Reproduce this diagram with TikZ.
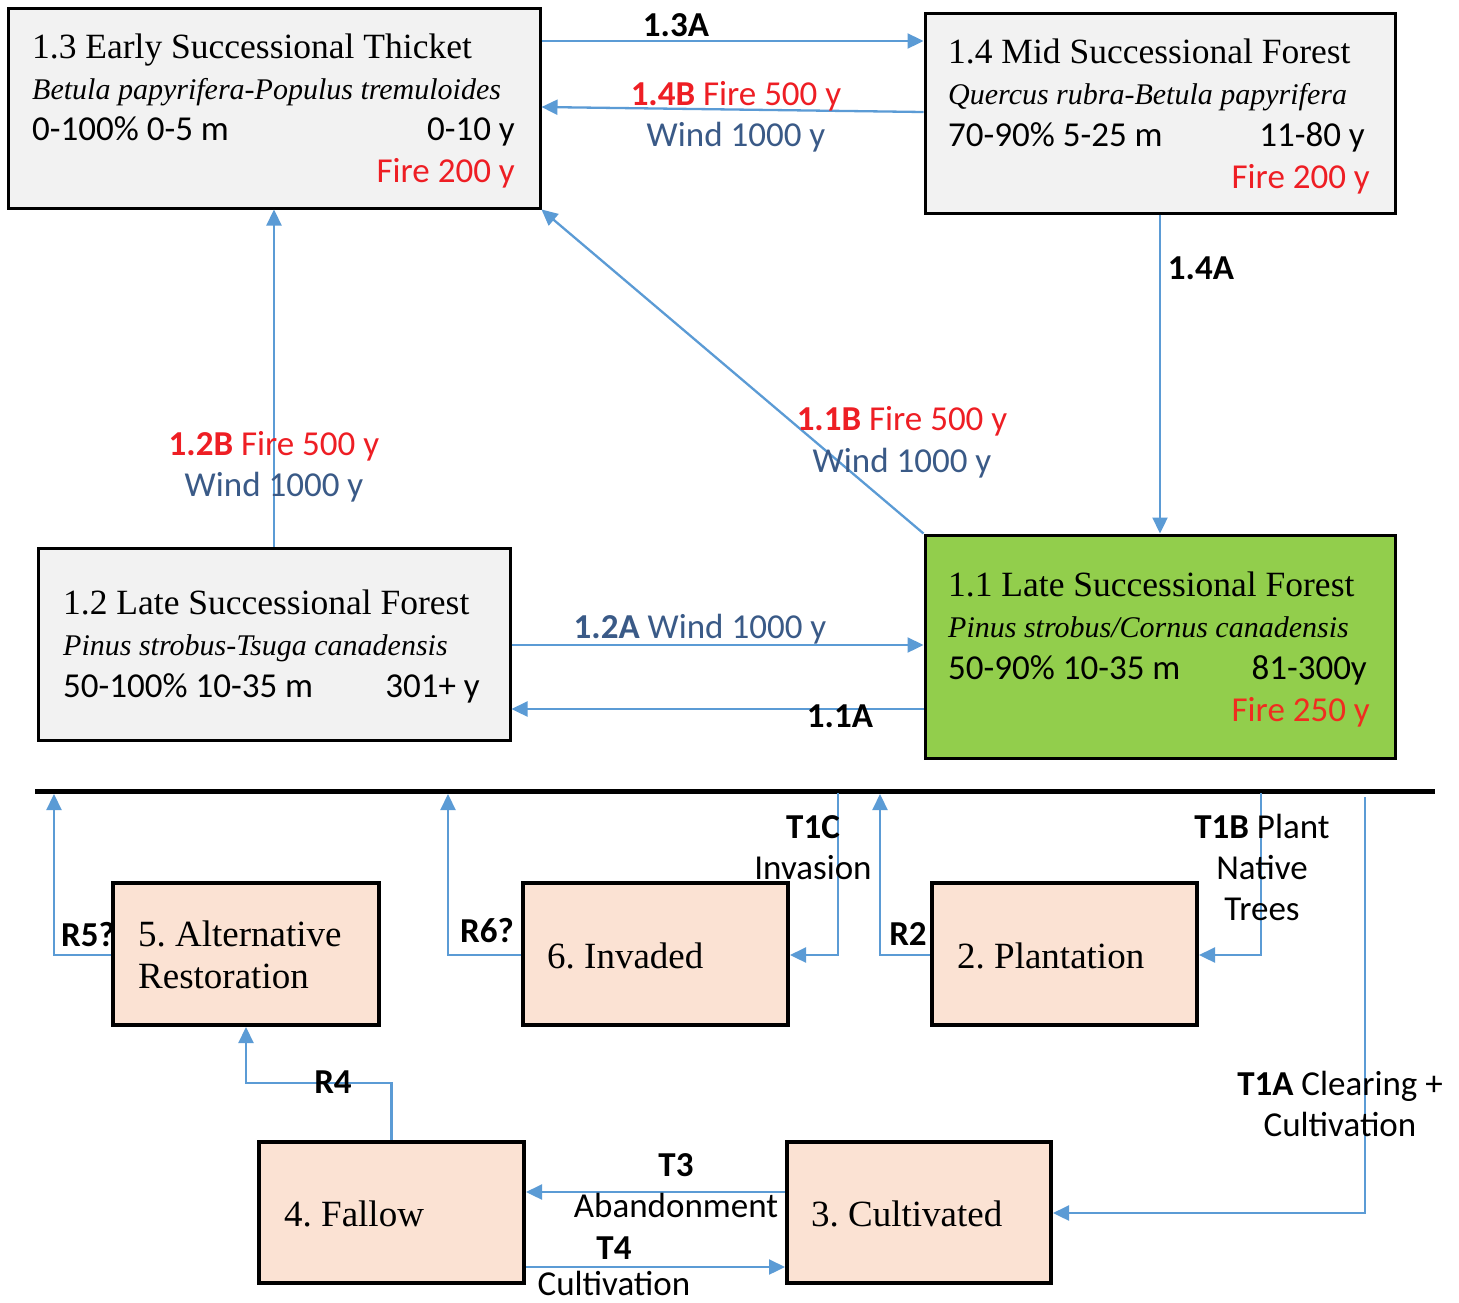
\documentclass[tikz,border=0pt]{standalone}
\usepackage{fontspec}
\setmainfont{Liberation Serif}
\newfontfamily\calfont{Carlito}
\usetikzlibrary{arrows.meta,calc}
\frenchspacing
\definecolor{arrowblue}{RGB}{91,155,213}
\definecolor{boxgray}{RGB}{242,242,242}
\definecolor{boxgreen}{RGB}{146,206,76}
\definecolor{peach}{RGB}{251,226,211}
\definecolor{firered}{RGB}{238,30,36}
\definecolor{windblue}{RGB}{58,90,135}
\tikzset{
  statebox/.style={draw=black, line width=3pt, fill=boxgray, rectangle, inner sep=0pt},
  altbox/.style={draw=black, line width=4pt, fill=peach, rectangle, inner sep=0pt},
  conn/.style={draw=arrowblue, line width=2.3pt, -{Triangle[length=16pt,width=15pt]}},
  ttl/.style={font=\fontsize{35.5}{40}\selectfont, anchor=base west, inner sep=0pt},
  altttl/.style={font=\fontsize{37}{42}\selectfont, anchor=base west, inner sep=0pt},
  spc/.style={font=\fontsize{30}{36}\selectfont\itshape, anchor=base west, inner sep=0pt},
  numl/.style={font=\calfont\fontsize{35}{40}\selectfont, anchor=base west, inner sep=0pt},
  numr/.style={font=\calfont\fontsize{35}{40}\selectfont, anchor=base east, inner sep=0pt},
  lab/.style={font=\calfont\fontsize{35}{40}\selectfont, anchor=base, inner sep=0pt},
}
\begin{document}
\begin{tikzpicture}[x=1pt,y=-1pt]
\useasboundingbox (0,0) rectangle (1459,1302);
\fill[white] (0,0) rectangle (1459,1302);

% upper state boxes
\node[statebox, minimum width=532pt, minimum height=200pt] (b13) at (274,108) {};
\node[statebox, minimum width=470pt, minimum height=200pt] (b14) at (1160,113) {};
\node[statebox, minimum width=472pt, minimum height=192pt] (b12) at (274,644) {};
\node[statebox, fill=boxgreen, minimum width=470pt, minimum height=223pt] (b11) at (1160,646.5) {};

% box 1.3 text
\node[ttl] (t13a) at (32,58) {1.3 Early Successional Thicket};
\node[spc] (t13b) at (32,99) {Betula papyrifera-Populus tremuloides};
\node[numl] (t13c) at (32,140) {0-100\% 0-5 m};
\node[numr] (t13d) at (515,140) {0-10 y};
\node[numr, text=firered] (t13e) at (515,182) {Fire 200 y};

% box 1.4 text
\node[ttl] (t14a) at (948,63) {1.4 Mid Successional Forest};
\node[spc] (t14b) at (948,104) {Quercus rubra-Betula papyrifera};
\node[numl] (t14c) at (948,146) {70-90\% 5-25 m};
\node[numr] (t14d) at (1365,146) {11-80 y};
\node[numr, text=firered] (t14e) at (1370,188) {Fire 200 y};

% box 1.2 text
\node[ttl] (t12a) at (63,614) {1.2 Late Successional Forest};
\node[spc] (t12b) at (63,655) {Pinus strobus-Tsuga canadensis};
\node[numl] (t12c) at (63,697) {50-100\% 10-35 m};
\node[numr] (t12d) at (480,697) {301+ y};

% box 1.1 text
\node[ttl] (t11a) at (948,596) {1.1 Late Successional Forest};
\node[spc] (t11b) at (948,637) {Pinus strobus/Cornus canadensis};
\node[numl] (t11c) at (948,679) {50-90\% 10-35 m};
\node[numr] (t11d) at (1367,679) {81-300y};
\node[numr, text=firered!85!orange] (t11e) at (1370,721) {Fire 250 y};

% upper connectors
\draw[conn] (b13.east |- 0,41) -- (b14.west |- 0,41);
\draw[conn] (b14.west |- 0,112) -- (b13.east |- 0,107);
\draw[conn] (b12.north) -- (b13.south);
\draw[conn] (b11.north west) -- (b13.south east);
\draw[conn] (b14.south) -- (b11.north);
\draw[conn] (b12.east |- 0,645) -- (b11.west |- 0,645);
\draw[conn] (b11.west |- 0,709) -- (b12.east |- 0,709);

% upper labels
\node[lab] (l13a) at (676,36) {\bfseries 1.3A};
\node[lab, text=firered] (l14b) at (736,105) {\bfseries 1.4B\mdseries{} Fire 500 y};
\node[lab, text=windblue] (l14bw) at (736,146) {Wind 1000 y};
\node[lab, text=firered] (l12b) at (274,455) {\bfseries 1.2B\mdseries{} Fire 500 y};
\node[lab, text=windblue] (l12bw) at (274,496) {Wind 1000 y};
\node[lab, text=firered] (l11b) at (902,430) {\bfseries 1.1B\mdseries{} Fire 500 y};
\node[lab, text=windblue] (l11bw) at (902,472) {Wind 1000 y};
\node[lab] (l14a) at (1201,279) {\bfseries 1.4A};
\node[lab, text=windblue] (l12a) at (700,638) {\bfseries 1.2A\mdseries{} Wind 1000 y};
\node[lab] (l11a) at (840,727) {\bfseries 1.1A};

% threshold bar
\coordinate (barL) at (35,791);
\coordinate (barR) at (1435,791);
\draw[line width=5pt] (barL) -- (barR);
\coordinate (r5top) at (54,794);
\coordinate (r6top) at (448,794);
\coordinate (r2top) at (880,794);
\coordinate (t1ctop) at (838,793);
\coordinate (t1btop) at (1261,793);
\coordinate (t1atop) at (1365,797);

% lower boxes
\node[altbox, minimum width=266pt, minimum height=142pt] (b5) at (246,954) {};
\node[altbox, minimum width=265pt, minimum height=142pt] (b6) at (655.5,954) {};
\node[altbox, minimum width=265pt, minimum height=142pt] (b2) at (1064.5,954) {};
\node[altbox, minimum width=265pt, minimum height=141pt] (b4) at (391.5,1212.5) {};
\node[altbox, minimum width=264pt, minimum height=141pt] (b3) at (919,1212.5) {};

\node[altttl] (t5a) at (138,946) {5. Alternative};
\node[altttl] (t5b) at (138,988) {Restoration};
\node[altttl] (t6) at (547,968) {6. Invaded};
\node[altttl] (t2) at (957,968) {2. Plantation};
\node[altttl] (t4) at (284,1226) {4. Fallow};
\node[altttl] (t3) at (811,1226) {3. Cultivated};

% lower connectors
\draw[conn] (b5.west |- 0,955) -| (r5top);
\draw[conn] (b6.west |- 0,955) -| (r6top);
\draw[conn] (t1ctop) |- (b6.east |- 0,955);
\draw[conn] (b2.west |- 0,955) -| (r2top);
\draw[conn] (t1btop) |- (b2.east |- 0,955);
\draw[conn] (t1atop) |- (b3.east |- 0,1213);
\draw[conn] (b4.north) |- (246,1083) -- (b5.south);
\draw[conn] (b3.west |- 0,1192) -- (b4.east |- 0,1192);
\draw[conn] (b4.east |- 0,1267) -- (b3.west |- 0,1267);

% lower labels
\node[lab] (lt1c) at (813,838) {\bfseries T1C};
\node[lab] (lt1cb) at (813,879) {Invasion};
\node[lab] (lt1b) at (1262,838) {\bfseries T1B\mdseries{} Plant};
\node[lab] (lt1bb) at (1262,879) {Native};
\node[lab] (lt1bc) at (1262,920) {Trees};
\node[lab] (lr2) at (908,945) {\bfseries R2};
\node[lab] (lr5) at (88,946) {\bfseries R5?};
\node[lab] (lr6) at (487,942) {\bfseries R6?};
\node[lab] (lr4) at (333,1093) {\bfseries R4};
\node[lab] (lt1a) at (1340,1095) {\bfseries T1A\mdseries{} Clearing +};
\node[lab] (lt1ab) at (1340,1136) {Cultivation};
\node[lab] (lt3) at (676,1176) {\bfseries T3};
\node[lab] (lt3b) at (676,1217) {Abandonment};
\node[lab] (lt4) at (614,1259) {\bfseries T4};
\node[lab] (lt4b) at (614,1295) {Cultivation};
\end{tikzpicture}
\end{document}
